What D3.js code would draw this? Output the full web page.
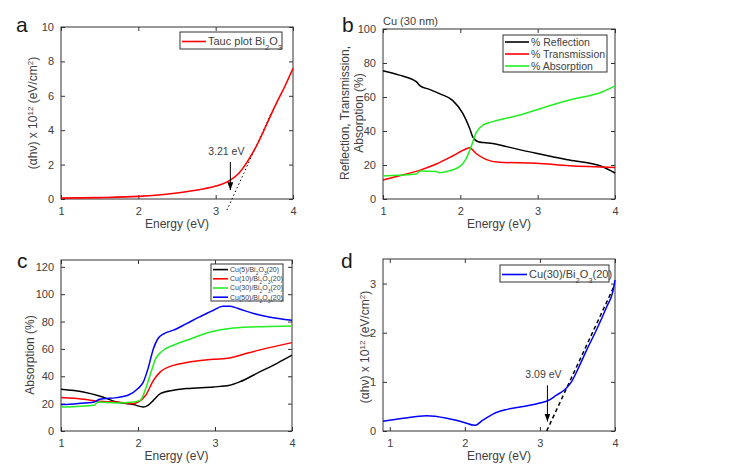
<!DOCTYPE html>
<html>
<head>
<meta charset="utf-8">
<script src="https://cdn.jsdelivr.net/npm/d3@7"></script>
<style>
  body { margin: 0; background: #fff; }
  svg { font-family: "Liberation Sans", Arial, sans-serif; }
  .tick text { fill: #404040; }
</style>
</head>
<body>
<svg id="chart" width="745" height="471"></svg>
<script>
// ---- data ----
// a: Tauc plot of Bi2O3
const taucEnergy = [1.0, 1.5, 2.0, 2.5, 2.8, 3.0, 3.19, 3.3, 3.4, 3.5, 3.6, 3.7, 3.8, 3.9, 4.0];
const taucValue  = [0.05, 0.08, 0.15, 0.35, 0.55, 0.75, 1.1, 1.5, 2.1, 2.85, 3.75, 4.75, 5.7, 6.6, 7.6];
const taucFitE = [3.145, 3.72];
const taucFitV = [-0.65, 5.0];
const gapA = 3.21;

// b: Cu (30 nm) R / T / A
const reflE = [1.0, 1.2, 1.43, 1.48, 1.6, 1.73, 1.9, 2.03, 2.12, 2.16, 2.23, 2.3, 2.42, 2.6, 2.98, 3.41, 3.84, 4.0];
const reflV = [75.5, 73, 69, 66.5, 64.5, 62, 58, 50.5, 41.6, 36.6, 33.7, 33.2, 32.7, 30.8, 26.9, 22.9, 19, 15.3];
const transE = [1.0, 1.2, 1.48, 1.69, 1.9, 2.07, 2.12, 2.2, 2.33, 2.5, 2.98, 3.41, 4.0];
const transV = [11.2, 13.5, 17, 20.6, 25.3, 29.4, 30.2, 26.9, 23.3, 21.6, 21, 19.6, 18.6];
const absE = [1.0, 1.2, 1.43, 1.48, 1.69, 1.73, 1.86, 1.99, 2.07, 2.14, 2.2, 2.29, 2.42, 2.77, 2.98, 3.41, 3.84, 4.0];
const absV = [13.5, 14, 14.7, 16.5, 16.2, 15.5, 16.6, 19, 23.3, 30.8, 38.6, 43.5, 45.5, 49.4, 52.4, 58.2, 63.1, 66.5];

// c: absorption of Cu(x)/Bi2O3(20)
const cu5E  = [1.0, 1.29, 1.51, 1.72, 1.94, 2.07, 2.13, 2.2, 2.29, 2.46, 2.63, 2.98, 3.19, 3.32, 3.58, 3.8, 4.0];
const cu5V  = [30.5, 28.5, 25.4, 21.2, 19.3, 17.6, 18.8, 22.4, 27.3, 29.8, 31, 32.2, 33.4, 35.9, 43.2, 49.3, 55.4];
const cu10E = [1.0, 1.29, 1.5, 1.72, 1.94, 2.0, 2.1, 2.2, 2.29, 2.46, 2.63, 2.98, 3.19, 3.4, 3.6, 4.0];
const cu10V = [24.4, 23.2, 21.7, 21.2, 20, 21.2, 26.1, 37, 43.2, 48, 50, 52.4, 53.4, 56.6, 59.5, 64.6];
const cu30E = [1.0, 1.2, 1.43, 1.48, 1.72, 1.94, 2.03, 2.1, 2.17, 2.23, 2.3, 2.46, 2.63, 2.98, 3.19, 3.5, 4.0];
const cu30V = [17.6, 18, 18.8, 21.2, 20.5, 21.2, 22.4, 31, 43.2, 52.9, 57.8, 62.7, 66.3, 72.9, 74.9, 76.1, 76.8];
const cu50E = [1.0, 1.2, 1.43, 1.5, 1.72, 1.87, 2.0, 2.07, 2.13, 2.2, 2.26, 2.34, 2.46, 2.63, 2.8, 2.98, 3.1, 3.19, 3.3, 3.5, 3.7, 4.0];
const cu50V = [19.3, 20, 21.2, 23.2, 24.4, 26.1, 31, 35.9, 45.6, 60.2, 67.6, 71.2, 73.7, 78.5, 83.4, 88.3, 91.2, 91.2, 89.5, 85.9, 83.4, 81];
const cLegend = ["Cu(5)/Bi|2|O|3|(20)", "Cu(10)/Bi|2|O|3|(20)", "Cu(30)/Bi|2|O|3|(20)", "Cu(50)/Bi|2|O|3|(20)"];

// d: Tauc plot of Cu(30)/Bi2O3(20)
const taucDE = [0.91, 1.18, 1.49, 1.76, 1.98, 2.13, 2.24, 2.38, 2.56, 2.82, 3.0, 3.11, 3.22, 3.33, 3.42, 3.53, 3.62, 3.76, 3.89, 3.97, 4.0];
const taucDV = [0.2, 0.26, 0.31, 0.26, 0.18, 0.115, 0.22, 0.35, 0.44, 0.51, 0.57, 0.62, 0.73, 0.84, 1.0, 1.34, 1.64, 2.08, 2.53, 2.83, 3.07];
const taucDFitE = [3.09, 3.98];
const taucDFitV = [0.0, 2.92];
const gapD = 3.09;

const energyTicks = [1, 2, 3, 4];

// ---- drawing ----
const svg = d3.select("#chart");
const ink = "#404040";

svg.append("defs").append("marker")
    .attr("id", "arrow")
    .attr("viewBox", "0 0 6 8")
    .attr("refX", 3).attr("refY", 8)
    .attr("markerWidth", 6).attr("markerHeight", 8)
    .attr("markerUnits", "userSpaceOnUse")
    .attr("orient", "0")
    .append("path")
    .attr("d", "M0,0 L6,0 L3,8 Z")
    .attr("fill", "#000");

function panel(p) {
    const g = svg.append("g");
    const x = d3.scaleLinear().domain(p.xDomain).range([p.left, p.right]);
    const y = d3.scaleLinear().domain(p.yDomain).range([p.bottom, p.top]);

    const fmt = d => d;
    g.append("g").attr("transform", "translate(0," + p.bottom + ")")
        .call(d3.axisBottom(x).tickValues(energyTicks).tickSize(-4).tickPadding(8).tickFormat(fmt));
    g.append("g").attr("transform", "translate(0," + p.top + ")")
        .call(d3.axisTop(x).tickValues(energyTicks).tickSize(-4).tickFormat(""));
    g.append("g").attr("transform", "translate(" + p.left + ",0)")
        .call(d3.axisLeft(y).tickValues(p.yTicks).tickSize(-4).tickPadding(7).tickFormat(fmt));
    g.append("g").attr("transform", "translate(" + p.right + ",0)")
        .call(d3.axisRight(y).tickValues(p.yTicks).tickSize(-4).tickFormat(""));
    g.selectAll(".domain").remove();
    g.selectAll(".tick line").attr("stroke", "#333");
    g.selectAll(".tick text").attr("font-size", 11).attr("font-family", "Liberation Sans, Arial, sans-serif");

    g.append("rect")
        .attr("x", p.left).attr("y", p.top)
        .attr("width", p.right - p.left).attr("height", p.bottom - p.top)
        .attr("fill", "none").attr("stroke", "#333").attr("stroke-width", 1);

    g.append("text")
        .attr("x", (p.left + p.right) / 2).attr("y", p.bottom + 29)
        .attr("text-anchor", "middle").attr("font-size", 12).attr("fill", ink)
        .text("Energy (eV)");

    g.append("text")
        .attr("x", p.labelX).attr("y", p.labelY)
        .attr("font-size", 21).attr("fill", "#1a1a1a")
        .text(p.label);

    return { g, x, y };
}

// rich text: "a|b|c" alternates normal / sub or sup segments
function rich(sel, str, shift, size) {
    str.split("|").forEach((s, i) => {
        const t = sel.append("tspan").text(s);
        if (i % 2 === 1) t.attr("baseline-shift", shift).attr("font-size", size);
    });
}

function yTitle(g, cx, cy, parts) {
    const t = g.append("text")
        .attr("transform", "translate(" + cx + "," + cy + ") rotate(-90)")
        .attr("dy", "0.35em")
        .attr("text-anchor", "middle").attr("font-size", 12).attr("fill", ink);
    rich(t, parts, "super", 8);
}

function drawLine(pn, xs, ys, color, width, dash) {
    const line = d3.line().x(d => pn.x(d[0])).y(d => pn.y(d[1])).curve(d3.curveMonotoneX);
    pn.g.append("path")
        .datum(d3.zip(xs, ys))
        .attr("d", line)
        .attr("fill", "none")
        .attr("stroke", color)
        .attr("stroke-width", width)
        .attr("stroke-dasharray", dash || null);
}

function legend(pn, box, items, fontSize, rowH) {
    pn.g.append("rect")
        .attr("x", box[0]).attr("y", box[1]).attr("width", box[2]).attr("height", box[3])
        .attr("fill", "#fff").attr("stroke", "#333").attr("stroke-width", 1);
    items.forEach((it, i) => {
        const cy = box[1] + rowH * (i + 0.5) + 1;
        pn.g.append("line")
            .attr("x1", box[0] + 2).attr("x2", box[0] + box[4])
            .attr("y1", cy).attr("y2", cy)
            .attr("stroke", it.color).attr("stroke-width", 1.6);
        const t = pn.g.append("text")
            .attr("x", box[0] + box[4] + 2).attr("y", cy).attr("dy", "0.35em")
            .attr("font-size", fontSize).attr("fill", ink);
        rich(t, it.text, "sub", fontSize * 0.7);
    });
}

function arrow(pn, xv, y0, y1, label) {
    pn.g.append("line")
        .attr("x1", pn.x(xv)).attr("x2", pn.x(xv))
        .attr("y1", pn.y(y0)).attr("y2", pn.y(y1) - 8)
        .attr("stroke", "#000").attr("stroke-width", 1)
        .attr("marker-end", "url(#arrow)");
    pn.g.append("text")
        .attr("x", pn.x(xv) - 4).attr("y", pn.y(y0) - 7)
        .attr("text-anchor", "middle").attr("font-size", 10.5).attr("fill", ink)
        .text(label);
}

// panel a
const pa = panel({ left: 61, right: 293, top: 27, bottom: 199, xDomain: [1, 4], yDomain: [0, 10],
    yTicks: [0, 2, 4, 6, 8, 10], label: "a", labelX: 16, labelY: 32 });
yTitle(pa.g, 33, 113, "(\u03b1h\u03bd) x 10|12| (eV/cm|2|)");
drawLine(pa, taucFitE, taucFitV, "#000", 1, "1.5,2.5");
drawLine(pa, taucEnergy, taucValue, "#ff0000", 1.6);
arrow(pa, 3.19, 2.15, 0.05, gapA.toFixed(2) + " eV");
legend(pa, [180, 32, 102, 17, 26], [{ color: "#ff0000", text: "Tauc plot Bi|2|O|3|" }], 11, 17);

// panel b
const pb = panel({ left: 383, right: 615, top: 29, bottom: 199, xDomain: [1, 4], yDomain: [0, 100],
    yTicks: [0, 20, 40, 60, 80, 100], label: "b", labelX: 342, labelY: 32 });
yTitle(pb.g, 345, 113, "Reflection, Transmission,");
yTitle(pb.g, 359, 113, "Absorption (%)");
pb.g.append("text").attr("x", 383).attr("y", 25)
    .attr("font-size", 11).attr("fill", ink).text("Cu (30 nm)");
drawLine(pb, reflE, reflV, "#000", 1.5);
drawLine(pb, transE, transV, "#ff0000", 1.5);
drawLine(pb, absE, absV, "#22ee22", 1.5);
legend(pb, [503, 35, 104, 37, 26], [
    { color: "#000", text: "% Reflection" },
    { color: "#ff0000", text: "% Transmission" },
    { color: "#22ee22", text: "% Absorption" }], 10.5, 12);

// panel c
const pc = panel({ left: 61, right: 292, top: 260, bottom: 431, xDomain: [1, 4], yDomain: [0, 125],
    yTicks: [0, 20, 40, 60, 80, 100, 120], label: "c", labelX: 17, labelY: 268 });
yTitle(pc.g, 30, 355, "Absorption (%)");
drawLine(pc, cu5E, cu5V, "#000", 1.5);
drawLine(pc, cu10E, cu10V, "#ff0000", 1.5);
drawLine(pc, cu30E, cu30V, "#22ee22", 1.5);
drawLine(pc, cu50E, cu50V, "#0000ff", 1.5);
legend(pc, [211, 264, 72, 37, 17], [
    { color: "#000", text: cLegend[0] },
    { color: "#ff0000", text: cLegend[1] },
    { color: "#22ee22", text: cLegend[2] },
    { color: "#0000ff", text: cLegend[3] }], 7, 9.2);

// panel d
const pd = panel({ left: 383, right: 615, top: 259, bottom: 431, xDomain: [0.91, 4], yDomain: [0, 3.5],
    yTicks: [0, 1, 2, 3], label: "d", labelX: 341, labelY: 268 });
yTitle(pd.g, 365, 347, "(\u03b1h\u03bd) x 10|12| (eV/cm|2|)");
drawLine(pd, taucDFitE, taucDFitV, "#000", 1.5, "4,3");
drawLine(pd, taucDE, taucDV, "#0000ff", 1.5);
arrow(pd, 3.1, 0.93, 0.03, gapD.toFixed(2) + " eV");
legend(pd, [500, 265, 109, 17, 27], [{ color: "#0000ff", text: "Cu(30)/Bi|2|O|3|(20)" }], 11, 17);
</script>
</body>
</html>
